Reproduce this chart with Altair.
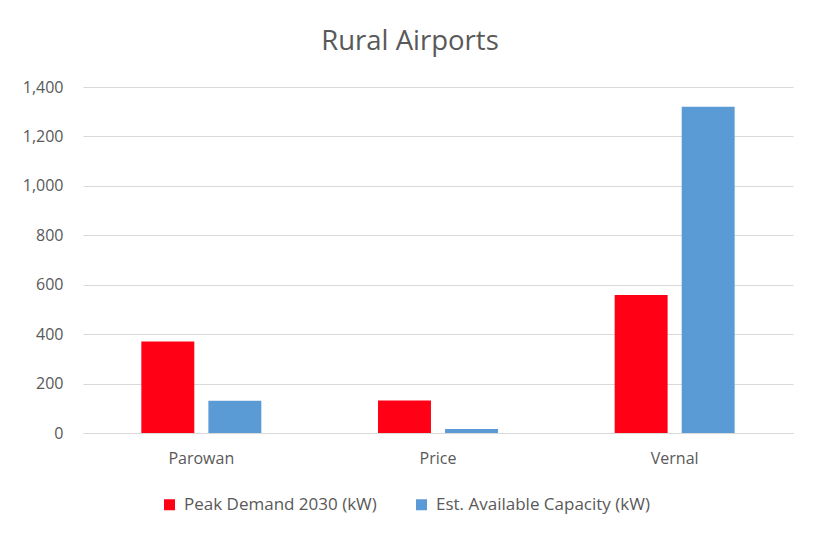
import altair as alt
import pandas as pd

airports = ["Parowan", "Price", "Vernal"]
series = ["Peak Demand 2030 (kW)", "Est. Available Capacity (kW)"]
peak_demand = [370, 132, 558]
available_capacity = [130, 16, 1320]
colors = ["#FF0015", "#5B9BD5"]

rows = []
for i, a in enumerate(airports):
    rows.append({"airport": a, "series": series[0], "value": peak_demand[i]})
    rows.append({"airport": a, "series": series[1], "value": available_capacity[i]})
df = pd.DataFrame(rows)

FONT = "Open Sans"
GREY = "#595959"

chart = (
    alt.Chart(df)
    .mark_bar()
    .encode(
        x=alt.X(
            "airport:N",
            sort=airports,
            title=None,
            scale=alt.Scale(paddingInner=0.493, paddingOuter=0.2465),
            axis=alt.Axis(
                labelAngle=0,
                ticks=False,
                domain=True,
                domainColor="#D9D9D9",
                grid=False,
                labelPadding=17,
                labelFontSize=16,
                labelColor=GREY,
                labelFont=FONT,
            ),
        ),
        xOffset=alt.XOffset(
            "series:N",
            sort=series,
            scale=alt.Scale(paddingInner=0.21, paddingOuter=0),
        ),
        y=alt.Y(
            "value:Q",
            title=None,
            scale=alt.Scale(domain=[0, 1400]),
            axis=alt.Axis(
                values=[0, 200, 400, 600, 800, 1000, 1200, 1400],
                format=",.0f",
                ticks=False,
                domain=False,
                gridColor="#D9D9D9",
                gridWidth=1,
                labelPadding=20,
                labelFontSize=16,
                labelColor=GREY,
                labelFont=FONT,
            ),
        ),
        color=alt.Color(
            "series:N",
            sort=series,
            scale=alt.Scale(domain=series, range=colors),
            legend=alt.Legend(
                title=None,
                orient="none",
                direction="horizontal",
                legendX=78,
                legendY=409,
                symbolType="square",
                symbolSize=121,
                symbolStrokeWidth=0,
                labelFontSize=17,
                labelColor=GREY,
                labelFont=FONT,
                labelOffset=6,
                labelLimit=0,
                columnPadding=36,
                padding=0,
            ),
        ),
    )
    .properties(
        width=710,
        height=346,
        padding={"left": 75, "top": 79, "right": 19, "bottom": 97},
        autosize=alt.AutoSizeParams(type="none"),
        background="white",
        title=alt.TitleParams(
            "Rural Airports",
            fontSize=27.5,
            font=FONT,
            fontWeight="normal",
            color=GREY,
            anchor="middle",
            dx=-28,
            offset=24,
        ),
    )
    .configure_view(strokeWidth=0)
)

chart.save("out.html", embed_options={"renderer": "svg", "actions": False})
